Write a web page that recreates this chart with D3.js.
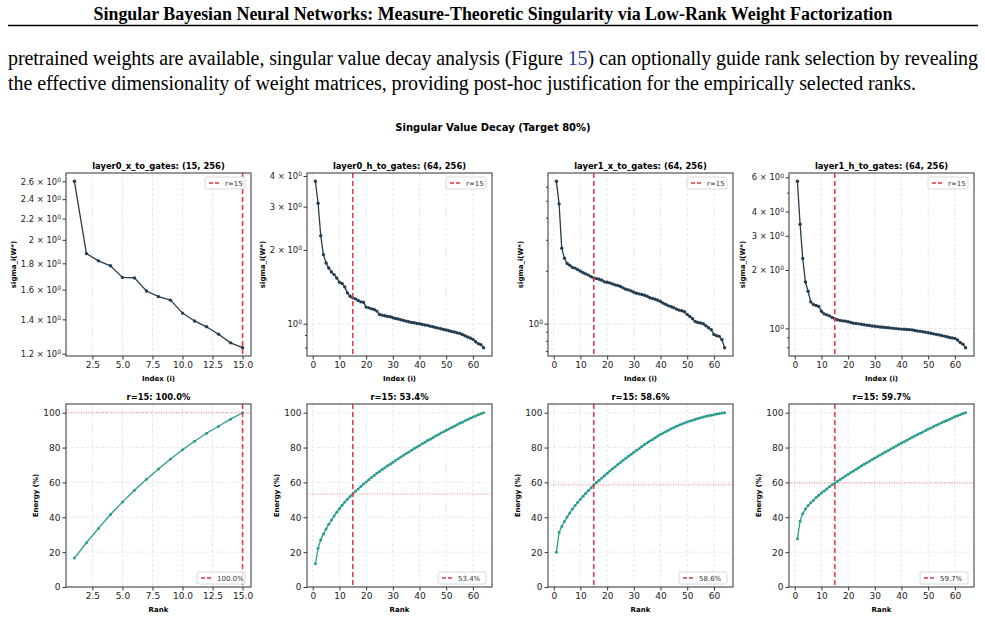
<!DOCTYPE html>
<html>
<head>
<meta charset="utf-8">
<script src="https://cdn.jsdelivr.net/npm/d3@7"></script>
<style>
body { margin: 0; background: #fff; }
svg { display: block; }
</style>
</head>
<body>
<svg id="page" width="985" height="635"></svg>
<script>
// page text
var headerText = "Singular Bayesian Neural Networks: Measure-Theoretic Singularity via Low-Rank Weight Factorization"
var paraLine1 = ["pretrained weights are available, singular value decay analysis (Figure ", "15", ") can optionally guide rank selection by revealing"]
var paraLine2 = "the effective dimensionality of weight matrices, providing post-hoc justification for the empirically selected ranks."
var suptitle = "Singular Value Decay (Target 80%)"

// chart data
var layerNames = ["layer0_x_to_gates: (15, 256)", "layer0_h_to_gates: (64, 256)", "layer1_x_to_gates: (64, 256)", "layer1_h_to_gates: (64, 256)"]
var chosenRank = 15
var energyAtRank = [100.0, 53.4, 58.6, 59.7]

var sigma0x = [2.60,1.88,1.82,1.78,1.69,1.686,1.59,1.55,1.526,1.44,1.39,1.354,1.31,1.26,1.233]
var sigma0h = [3.805,3.098,2.283,1.912,1.768,1.688,1.626,1.586,1.537,1.476,
  1.458,1.413,1.336,1.295,1.275,1.263,1.244,1.228,1.224,1.169,
  1.161,1.150,1.143,1.126,1.091,1.084,1.078,1.071,1.068,1.058,
  1.051,1.045,1.038,1.032,1.025,1.019,1.012,1.009,1.003,1.000,
  0.994,0.988,0.985,0.978,0.972,0.966,0.960,0.954,0.948,0.943,
  0.937,0.931,0.925,0.919,0.914,0.905,0.894,0.883,0.875,0.864,
  0.845,0.830,0.822,0.799]
var sigma1x = [6.45,4.80,2.69,2.36,2.20,2.15,2.09,2.07,2.03,1.99,
  1.95,1.92,1.89,1.85,1.82,1.806,1.789,1.767,1.729,1.721,
  1.707,1.684,1.663,1.648,1.627,1.599,1.571,1.557,1.537,1.511,
  1.491,1.478,1.466,1.453,1.434,1.404,1.391,1.379,1.361,1.338,
  1.309,1.286,1.264,1.248,1.232,1.211,1.195,1.185,1.169,1.129,
  1.100,1.067,1.031,1.017,1.009,1.000,0.974,0.949,0.925,0.870,
  0.855,0.848,0.812,0.731]
var sigma1h = [5.72,3.44,2.29,1.735,1.554,1.370,1.328,1.312,1.297,1.227,
  1.189,1.175,1.161,1.139,1.121,1.108,1.100,1.094,1.090,1.083,
  1.072,1.064,1.060,1.056,1.050,1.045,1.040,1.035,1.030,1.026,
  1.022,1.018,1.015,1.012,1.008,1.004,1.001,0.998,0.995,0.992,
  0.990,0.988,0.986,0.983,0.976,0.970,0.966,0.962,0.957,0.950,
  0.944,0.938,0.932,0.926,0.920,0.913,0.906,0.898,0.893,0.889,
  0.872,0.846,0.830,0.796]

var energy0x = [16.6,25.4,33.6,41.6,48.7,55.5,61.8,67.7,73.5,78.8,83.6,88.2,92.2,96.3,100.0]
var energy0h = [13.4,22.2,27.1,30.4,33.3,36.0,38.4,40.7,42.9,44.9,
  46.9,48.7,50.4,51.9,53.4,54.9,56.3,57.7,59.1,60.3,
  61.6,62.8,64.0,65.2,66.3,67.4,68.4,69.5,70.5,71.6,
  72.6,73.6,74.6,75.6,76.6,77.5,78.5,79.4,80.3,81.2,
  82.2,83.1,84.0,84.8,85.7,86.6,87.4,88.3,89.1,89.9,
  90.7,91.5,92.3,93.1,93.9,94.6,95.4,96.1,96.8,97.5,
  98.1,98.8,99.4,100.0]
var energy1x = [20.0,31.3,34.7,37.6,40.1,42.5,44.7,46.8,48.6,50.4,
  52.1,53.8,55.4,57.0,58.6,59.9,61.3,62.6,63.9,65.2,
  66.5,67.8,69.0,70.3,71.5,72.7,73.9,75.0,76.2,77.3,
  78.4,79.5,80.6,81.7,82.7,83.7,84.7,85.7,86.7,87.6,
  88.4,89.2,90.0,90.8,91.5,92.2,92.9,93.5,94.1,94.7,
  95.2,95.7,96.2,96.7,97.1,97.5,97.9,98.3,98.6,98.9,
  99.2,99.5,99.8,100.0]
var energy1h = [27.7,37.7,42.1,44.7,46.7,48.3,49.8,51.3,52.7,53.9,
  55.1,56.3,57.5,58.6,59.7,60.7,61.7,62.7,63.7,64.7,
  65.7,66.6,67.6,68.5,69.5,70.4,71.3,72.2,73.1,74.0,
  74.9,75.7,76.6,77.5,78.3,79.2,80.0,80.9,81.7,82.6,
  83.4,84.2,85.0,85.9,86.7,87.5,88.2,89.0,89.8,90.6,
  91.3,92.1,92.8,93.5,94.2,95.0,95.6,96.3,97.0,97.7,
  98.3,98.9,99.5,100.0]

var sigmaSets = [sigma0x, sigma0h, sigma1x, sigma1h]
var energySets = [energy0x, energy0h, energy1x, energy1h]

// tick values
var xTicksShort = [2.5, 5.0, 7.5, 10.0, 12.5, 15.0]
var xTicksLong = [0, 10, 20, 30, 40, 50, 60]
var sigmaLabelTicks = [[1.2,1.4,1.6,1.8,2,2.2,2.4,2.6], [1,2,3,4], [1], [1,2,3,4,6]]
var sigmaMinorTicks = [[], [0.8,0.9], [0.7,0.8,0.9,2,3,4,5,6], [0.8,0.9,5]]
var energyTicks = [0, 20, 40, 60, 80, 100]

// layout
var lefts = [66, 307, 548, 789]
var plotW = 185
var topRow = [173, 356]
var botRow = [404, 587]
var sigmaLabelOffset = [-52, -44, -27, -46]

var lineColor = "#253d4f"
var energyColor = "#2a9d8f"
var red = "#e8333d"
var gridColor = "#e2e2e2"
var sans = "'DejaVu Sans', sans-serif"

var svg = d3.select("#page")

svg.append("text")
  .attr("x", 493).attr("y", 20)
  .attr("text-anchor", "middle")
  .attr("textLength", 799).attr("lengthAdjust", "spacingAndGlyphs")
  .style("font-family", "'Liberation Serif', serif")
  .style("font-weight", "bold").style("font-size", "18px")
  .text(headerText)

svg.append("line")
  .attr("x1", 8).attr("x2", 978).attr("y1", 25.5).attr("y2", 25.5)
  .attr("stroke", "#000").attr("stroke-width", 1.6)

var p1 = svg.append("text")
  .attr("x", 8).attr("y", 65)
  .attr("textLength", 970).attr("lengthAdjust", "spacing")
  .style("font-family", "'Liberation Serif', serif").style("font-size", "20px")
p1.append("tspan").text(paraLine1[0])
p1.append("tspan").attr("fill", "#2b3aa0").text(paraLine1[1])
p1.append("tspan").text(paraLine1[2])

svg.append("text")
  .attr("x", 8).attr("y", 90)
  .attr("textLength", 908).attr("lengthAdjust", "spacing")
  .style("font-family", "'Liberation Serif', serif").style("font-size", "20px")
  .text(paraLine2)

svg.append("text")
  .attr("x", 493).attr("y", 131)
  .attr("text-anchor", "middle")
  .style("font-family", sans).style("font-weight", "bold").style("font-size", "10px")
  .text(suptitle)

// "2.6 × 10" plus a small raised 0
function logLabel(sel) {
  sel.each(function (v) {
    var t = d3.select(this)
    t.text(null).style("font-size", "8.4px")
    t.append("tspan").text(v === 1 ? "10" : v + " × 10")
    t.append("tspan").attr("dy", "-0.45em").style("font-size", "6px").text("0")
  })
}

function xDomain(n) {
  var pad = 0.05 * (n - 1)
  return [1 - pad, n + pad]
}

function addLegend(g, right, y, label, w) {
  var lg = g.append("g").attr("transform", "translate(" + (right - w) + "," + y + ")")
  lg.append("rect").attr("width", w).attr("height", 12).attr("rx", 2)
    .attr("fill", "#fff").attr("fill-opacity", 0.85)
    .attr("stroke", "#d0d0d0").attr("stroke-width", 0.8)
  lg.append("line").attr("x1", 4).attr("x2", 16).attr("y1", 6).attr("y2", 6)
    .attr("stroke", red).attr("stroke-width", 1.5).attr("stroke-dasharray", "4,2")
  lg.append("text").attr("x", 20).attr("y", 8.6)
    .style("font-family", sans).style("font-size", "7px").attr("fill", "#333")
    .text(label)
}

function frame(g, x0, x1, y0, y1) {
  g.append("rect").attr("x", x0).attr("y", y0)
    .attr("width", x1 - x0).attr("height", y1 - y0)
    .attr("fill", "none").attr("stroke", "#444").attr("stroke-width", 1.1)
}

function styleTicks(g) {
  g.selectAll(".domain").remove()
  g.selectAll(".tick line").attr("stroke", "#333")
  g.selectAll(".tick text").style("font-family", sans).style("font-size", "9px").attr("fill", "#222")
}

function drawSigma(i) {
  var data = sigmaSets[i]
  var n = data.length
  var x0 = lefts[i], x1 = lefts[i] + plotW
  var g = svg.append("g")

  var x = d3.scaleLinear().domain(xDomain(n)).range([x0, x1])
  var lo = d3.min(data), hi = d3.max(data)
  var span = Math.log(hi / lo)
  var y = d3.scaleLog()
    .domain([lo * Math.exp(-0.05 * span), hi * Math.exp(0.05 * span)])
    .range([topRow[1], topRow[0]])

  var xt = n > 20 ? xTicksLong : xTicksShort
  var yd = y.domain()

  // grid
  g.selectAll(".gx").data(xt).enter().append("line")
    .attr("x1", d => x(d)).attr("x2", d => x(d))
    .attr("y1", topRow[0]).attr("y2", topRow[1])
    .attr("stroke", gridColor).attr("stroke-width", 0.8).attr("stroke-dasharray", "3,2")
  g.selectAll(".gy").data([1].filter(v => v >= yd[0] && v <= yd[1])).enter().append("line")
    .attr("x1", x0).attr("x2", x1)
    .attr("y1", d => y(d)).attr("y2", d => y(d))
    .attr("stroke", gridColor).attr("stroke-width", 0.8).attr("stroke-dasharray", "3,2")

  // axes
  var xAxis = d3.axisBottom(x).tickValues(xt).tickSize(3.5).tickPadding(2)
    .tickFormat(d => n > 20 ? d3.format("d")(d) : d3.format(".1f")(d))
  g.append("g").attr("transform", "translate(0," + topRow[1] + ")").call(xAxis)

  var lab = sigmaLabelTicks[i].filter(v => v >= yd[0] && v <= yd[1])
  var minor = sigmaMinorTicks[i].filter(v => v >= yd[0] && v <= yd[1])
  var yAx = g.append("g").attr("transform", "translate(" + x0 + ",0)")
    .call(d3.axisLeft(y).tickValues(lab).tickSize(3.5).tickPadding(1.5))
  g.append("g").attr("transform", "translate(" + x0 + ",0)")
    .call(d3.axisLeft(y).tickValues(minor).tickSize(2).tickFormat(""))
  styleTicks(g)
  yAx.selectAll(".tick text").call(logLabel)

  // data
  var clip = "clipS" + i
  svg.append("clipPath").attr("id", clip).append("rect")
    .attr("x", x0).attr("y", topRow[0]).attr("width", plotW).attr("height", topRow[1] - topRow[0])
  var body = g.append("g").attr("clip-path", "url(#" + clip + ")")

  body.append("path").datum(data)
    .attr("fill", "none").attr("stroke", lineColor).attr("stroke-width", 1.3)
    .attr("d", d3.line().x((d, k) => x(k + 1)).y(d => y(d)))
  body.selectAll("circle").data(data).enter().append("circle")
    .attr("cx", (d, k) => x(k + 1)).attr("cy", d => y(d)).attr("r", 1.7)
    .attr("fill", lineColor)

  body.append("line")
    .attr("x1", x(chosenRank)).attr("x2", x(chosenRank))
    .attr("y1", topRow[0]).attr("y2", topRow[1])
    .attr("stroke", red).attr("stroke-width", 1.5).attr("stroke-dasharray", "5,3")

  frame(g, x0, x1, topRow[0], topRow[1])
  addLegend(g, x1 - 6, topRow[0] + 4, "r=" + chosenRank, 40)

  // labels
  g.append("text").attr("x", (x0 + x1) / 2).attr("y", topRow[0] - 4)
    .attr("text-anchor", "middle")
    .style("font-family", sans).style("font-weight", "bold").style("font-size", "8.4px")
    .text(layerNames[i])
  g.append("text").attr("x", (x0 + x1) / 2).attr("y", topRow[1] + 25)
    .attr("text-anchor", "middle")
    .style("font-family", sans).style("font-weight", "bold").style("font-size", "7px")
    .text("Index (i)")
  var ly = (topRow[0] + topRow[1]) / 2
  g.append("text")
    .attr("transform", "translate(" + (x0 + sigmaLabelOffset[i]) + "," + ly + ") rotate(-90)")
    .attr("text-anchor", "middle").attr("dy", "0.35em")
    .style("font-family", sans).style("font-weight", "bold").style("font-size", "7px")
    .text("sigma_i(W*)")
}

function drawEnergy(i) {
  var data = energySets[i]
  var n = data.length
  var x0 = lefts[i], x1 = lefts[i] + plotW
  var g = svg.append("g")

  var x = d3.scaleLinear().domain(xDomain(n)).range([x0, x1])
  var y = d3.scaleLinear().domain([0, 105]).range([botRow[1], botRow[0]])
  var xt = n > 20 ? xTicksLong : xTicksShort

  g.selectAll(".gx").data(xt).enter().append("line")
    .attr("x1", d => x(d)).attr("x2", d => x(d))
    .attr("y1", botRow[0]).attr("y2", botRow[1])
    .attr("stroke", gridColor).attr("stroke-width", 0.8).attr("stroke-dasharray", "3,2")
  g.selectAll(".gy").data(energyTicks).enter().append("line")
    .attr("x1", x0).attr("x2", x1)
    .attr("y1", d => y(d)).attr("y2", d => y(d))
    .attr("stroke", gridColor).attr("stroke-width", 0.8).attr("stroke-dasharray", "3,2")

  g.append("g").attr("transform", "translate(0," + botRow[1] + ")")
    .call(d3.axisBottom(x).tickValues(xt).tickSize(3.5).tickPadding(2)
      .tickFormat(d => n > 20 ? d3.format("d")(d) : d3.format(".1f")(d)))
  g.append("g").attr("transform", "translate(" + x0 + ",0)")
    .call(d3.axisLeft(y).tickValues(energyTicks).tickSize(3.5).tickPadding(2))
  styleTicks(g)

  var clip = "clipE" + i
  svg.append("clipPath").attr("id", clip).append("rect")
    .attr("x", x0).attr("y", botRow[0]).attr("width", plotW).attr("height", botRow[1] - botRow[0])
  var body = g.append("g").attr("clip-path", "url(#" + clip + ")")

  body.append("line")
    .attr("x1", x0).attr("x2", x1)
    .attr("y1", y(energyAtRank[i])).attr("y2", y(energyAtRank[i]))
    .attr("stroke", red).attr("stroke-opacity", 0.6).attr("stroke-width", 1)
    .attr("stroke-dasharray", "1,1.5")

  body.append("path").datum(data)
    .attr("fill", "none").attr("stroke", energyColor).attr("stroke-width", 1.3)
    .attr("d", d3.line().x((d, k) => x(k + 1)).y(d => y(d)))
  body.selectAll("circle").data(data).enter().append("circle")
    .attr("cx", (d, k) => x(k + 1)).attr("cy", d => y(d)).attr("r", 1.5)
    .attr("fill", energyColor)

  body.append("line")
    .attr("x1", x(chosenRank)).attr("x2", x(chosenRank))
    .attr("y1", botRow[0]).attr("y2", botRow[1])
    .attr("stroke", red).attr("stroke-width", 1.5).attr("stroke-dasharray", "5,3")

  frame(g, x0, x1, botRow[0], botRow[1])
  addLegend(g, x1 - 6, botRow[1] - 15, d3.format(".1f")(energyAtRank[i]) + "%", 48)

  g.append("text").attr("x", (x0 + x1) / 2).attr("y", botRow[0] - 4)
    .attr("text-anchor", "middle")
    .style("font-family", sans).style("font-weight", "bold").style("font-size", "8.4px")
    .text("r=" + chosenRank + ": " + d3.format(".1f")(energyAtRank[i]) + "%")
  g.append("text").attr("x", (x0 + x1) / 2).attr("y", botRow[1] + 25)
    .attr("text-anchor", "middle")
    .style("font-family", sans).style("font-weight", "bold").style("font-size", "7px")
    .text("Rank")
  var ly = (botRow[0] + botRow[1]) / 2
  g.append("text")
    .attr("transform", "translate(" + (x0 - 30) + "," + ly + ") rotate(-90)")
    .attr("text-anchor", "middle").attr("dy", "0.35em")
    .style("font-family", sans).style("font-weight", "bold").style("font-size", "7px")
    .text("Energy (%)")
}

for (var i = 0; i < 4; i++) {
  drawSigma(i)
  drawEnergy(i)
}
</script>
</body>
</html>
